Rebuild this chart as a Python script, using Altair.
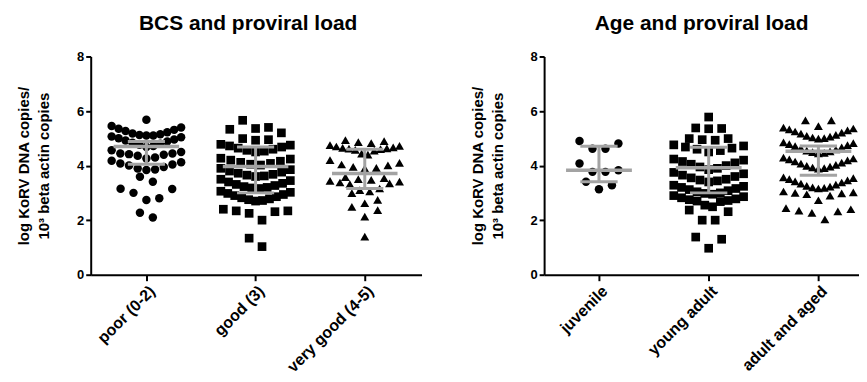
import altair as alt
import pandas as pd

FONT = "Liberation Sans"
GRAY = "#a3a3a3"

# ---------------- data ----------------
bcs_categories = ["poor (0-2)", "good (3)", "very good (4-5)"]
age_categories = ["juvenile", "young adult", "adult and aged"]

bcs_poor = [2.10, 2.27,
            2.74, 2.80, 3.00, 3.14, 3.15,
            3.41, 3.59,
            3.84, 3.86, 3.89, 3.95, 4.00, 4.04, 4.08, 4.12, 4.18,
            4.26, 4.30, 4.36, 4.40, 4.42, 4.44, 4.44, 4.50, 4.56,
            4.68, 4.72, 4.76, 4.80, 4.84, 4.88, 4.92, 4.96, 5.00, 5.04, 5.07,
            5.10, 5.10, 5.12, 5.15, 5.18, 5.22, 5.27, 5.31, 5.35, 5.40, 5.45,
            5.68]
bcs_good = [1.03, 1.34,
            2.00, 2.25, 2.31, 2.34, 2.34, 2.40,
            2.70, 2.72, 2.75, 2.78, 2.82, 2.86, 2.90, 2.94, 2.98, 3.02, 3.06,
            3.16, 3.18, 3.20, 3.23, 3.27, 3.31, 3.35, 3.40, 3.45, 3.50,
            3.60, 3.62, 3.65, 3.68, 3.72, 3.76, 3.80, 3.85, 3.90,
            4.02, 4.05, 4.08, 4.12, 4.16, 4.20, 4.24, 4.27,
            4.50, 4.53, 4.56, 4.60, 4.64, 4.68, 4.72, 4.75, 4.78,
            4.93, 4.95, 4.99, 5.20, 5.33,
            5.36, 5.40, 5.66]
bcs_very_good = [1.40,
                 2.13, 2.37, 2.49,
                 2.62, 2.74, 2.99,
                 3.05, 3.10, 3.16, 3.32, 3.35, 3.38, 3.41, 3.44,
                 3.48, 3.50, 3.54, 3.58,
                 3.90, 3.92, 3.95, 4.01, 4.04, 4.10, 4.20,
                 4.40, 4.44, 4.55, 4.58, 4.60, 4.62, 4.63, 4.65, 4.67, 4.70, 4.72, 4.75,
                 4.82, 4.86, 4.90, 4.93]

age_juvenile = [3.13, 3.28, 3.41,
                3.77, 3.77, 3.83, 4.08,
                4.62, 4.62, 4.81, 4.90]
age_young_adult = [0.97, 1.30, 1.38,
                   2.00, 2.00, 2.31, 2.37,
                   2.49, 2.55, 2.68, 2.70, 2.72, 2.75, 2.78, 2.82, 2.86, 2.90,
                   2.95, 2.98, 3.00, 3.04, 3.08, 3.12, 3.16, 3.20, 3.24, 3.28,
                   3.40, 3.44, 3.47, 3.50, 3.55, 3.60, 3.65, 3.70, 3.75,
                   3.85, 3.90, 3.95, 4.00, 4.05, 4.10, 4.15, 4.20, 4.24,
                   4.50, 4.55, 4.60, 4.64, 4.68, 4.72, 4.76,
                   4.93, 4.95, 4.99, 4.99,
                   5.35, 5.36, 5.38,
                   5.78]
age_adult_aged = [2.03, 2.27, 2.32, 2.35, 2.40, 2.44,
                  2.73, 2.90, 2.95, 2.98, 3.00, 3.02, 3.05,
                  3.16, 3.18, 3.20, 3.23, 3.26, 3.30, 3.34, 3.38, 3.42, 3.46, 3.50, 3.54, 3.57,
                  3.89, 3.91, 3.93, 3.96, 3.99, 4.03, 4.07, 4.11, 4.15, 4.19, 4.23, 4.26, 4.29,
                  4.45, 4.47, 4.49, 4.52, 4.55, 4.59, 4.63, 4.67, 4.71, 4.75, 4.79, 4.82, 4.85,
                  4.99, 5.01, 5.03, 5.06, 5.09, 5.13, 5.17, 5.21, 5.25, 5.29, 5.33, 5.36, 5.39,
                  5.45, 5.66, 5.66]

# median with interquartile range, as drawn
bcs_median = [4.70, 3.97, 3.71]
bcs_q1 = [4.05, 3.00, 3.16]
bcs_q3 = [4.88, 4.68, 4.60]
age_median = [3.83, 3.92, 4.53]
age_q1 = [3.41, 3.00, 3.65]
age_q3 = [4.71, 4.67, 4.72]

y_ticks = [0, 2, 4, 6, 8]
y_title = ["log KoRV DNA copies/", "10³ beta actin copies"]

# ---------------- layout helpers ----------------
PX_PER_UNIT = 110.0
PLOT_H = 219


def swarm_offsets(values, bw=0.42, step_px=13.0, max_px=70.0):
    """Prism-like column scatter: group sorted values into rows, spread each row."""
    vals = sorted(values)
    rows, i = [], 0
    while i < len(vals):
        start = vals[i]
        row = []
        while i < len(vals) and vals[i] < start + bw - 1e-9:
            row.append(vals[i])
            i += 1
        rows.append(row)
    out = []
    for row in rows:
        n = len(row)
        sp = step_px if n < 2 else min(step_px, max_px / (n - 1))
        for k, v in enumerate(row):
            if n % 2 == 1:
                if k == 0:
                    pos = 0.0
                else:
                    m = (k + 1) // 2
                    pos = m if k % 2 == 1 else -m
            else:
                m = k // 2 + 0.5
                pos = m if k % 2 == 0 else -m
            out.append((v, pos * sp / PX_PER_UNIT))
    return out


def panel(title, categories, groups, med, q1, q3, domain, width, title_dx):
    recs = []
    for idx, (cat, vals) in enumerate(zip(categories, groups)):
        for v, off in swarm_offsets(vals):
            recs.append({"category": cat, "idx": idx, "value": v, "xpos": idx + off})
    pts = pd.DataFrame(recs)
    summ = pd.DataFrame({"category": categories, "idx": list(range(len(categories))),
                         "median": med, "q1": q1, "q3": q3})

    label_expr = "[" + ",".join("'" + c + "'" for c in categories) + "][datum.value]"
    xscale = alt.Scale(domain=domain, nice=False, zero=False)
    yscale = alt.Scale(domain=[0, 8], nice=False, zero=True)
    xaxis = alt.Axis(values=[0, 1, 2], labelExpr=label_expr, title=None, grid=False,
                     labelAngle=315, labelAlign="right", labelBaseline="top",
                     labelFont=FONT, labelFontSize=16, labelFontWeight="bold",
                     labelColor="black", labelPadding=2, labelOverlap=False,
                     labelFlush=False, tickSize=6, tickWidth=2, tickColor="black",
                     domainColor="black", domainWidth=2)
    yaxis = alt.Axis(values=y_ticks, title=y_title, grid=False,
                     labelFont=FONT, labelFontSize=13, labelFontWeight="bold",
                     labelColor="black", labelPadding=2, tickSize=5, tickWidth=2,
                     tickColor="black", domainColor="black", domainWidth=2,
                     titleFont=FONT, titleFontSize=15, titleFontWeight="bold",
                     titleColor="black", titleLineHeight=20,
                     titleAngle=270, titleAlign="center", titleBaseline="top",
                     titleX=-74, titleY=PLOT_H / 2)

    points = alt.Chart(pts).mark_point(filled=True, opacity=1, color="black",
                                       strokeWidth=0).encode(
        x=alt.X("xpos:Q", scale=xscale, axis=xaxis),
        y=alt.Y("value:Q", scale=yscale, axis=yaxis),
        shape=alt.Shape("category:N",
                        scale=alt.Scale(domain=categories,
                                        range=["circle", "square", "triangle-up"]),
                        legend=None),
        size=alt.Size("category:O",
                      scale=alt.Scale(domain=categories, range=[72, 80, 88]),
                      legend=None),
    )

    base = alt.Chart(summ)
    median = base.transform_calculate(
        xl="datum.idx - 0.30", xr="datum.idx + 0.30"
    ).mark_rule(color=GRAY, strokeWidth=3.5).encode(
        x=alt.X("xl:Q", scale=xscale, axis=xaxis),
        x2="xr:Q",
        y=alt.Y("median:Q", scale=yscale, axis=yaxis),
    )
    whisker = base.mark_rule(color=GRAY, strokeWidth=3).encode(
        x=alt.X("idx:Q", scale=xscale, axis=xaxis),
        y=alt.Y("q1:Q", scale=yscale, axis=yaxis),
        y2="q3:Q",
    )
    caps = base.transform_fold(["q1", "q3"], as_=["which", "yy"]).transform_calculate(
        cl="datum.idx - 0.17", cr="datum.idx + 0.17"
    ).mark_rule(color=GRAY, strokeWidth=3).encode(
        x=alt.X("cl:Q", scale=xscale, axis=xaxis),
        x2="cr:Q",
        y=alt.Y("yy:Q", scale=yscale, axis=yaxis),
    )

    return alt.layer(points, median, whisker, caps).properties(
        width=width, height=PLOT_H,
        title=alt.TitleParams(title, font=FONT, fontSize=21, fontWeight="bold",
                              color="black", anchor="middle", frame="group",
                              dx=title_dx, offset=17),
    )


left = panel("BCS and proviral load", bcs_categories,
             [bcs_poor, bcs_good, bcs_very_good],
             bcs_median, bcs_q1, bcs_q3, [-0.51, 2.52], 332, -8)
right = panel("Age and proviral load", age_categories,
              [age_juvenile, age_young_adult, age_adult_aged],
              age_median, age_q1, age_q3, [-0.5, 2.37], 316, 0)

chart = alt.hconcat(left, right, spacing=49).resolve_scale(
    x="independent", y="independent", shape="independent", size="independent"
).properties(
    padding={"left": 9, "top": 4, "right": 0, "bottom": 0}
).configure_view(stroke=None)

chart.save("out.html", embed_options={"renderer": "svg", "actions": False})
